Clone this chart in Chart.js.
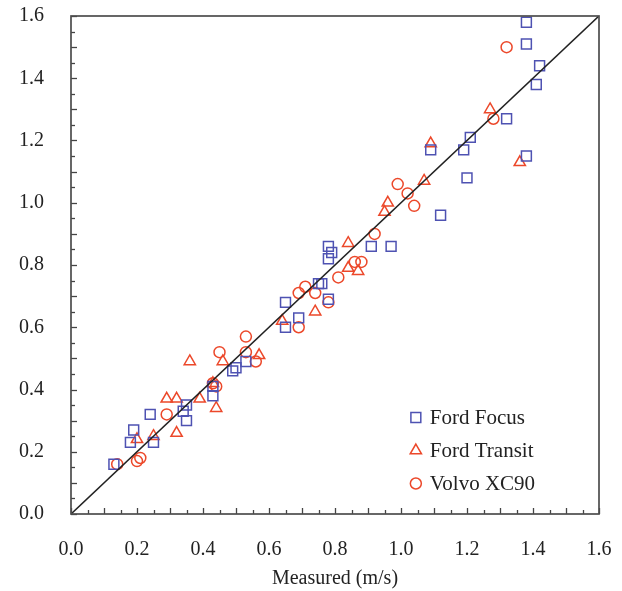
<!DOCTYPE html>
<html>
<head>
<meta charset="utf-8">
<script src="https://cdn.jsdelivr.net/npm/chart.js@4/dist/chart.umd.min.js"></script>
<style>
  html, body { margin: 0; padding: 0; background: #ffffff; }
  #wrap { width: 622px; height: 591px; }
</style>
</head>
<body>
<div id="wrap"><canvas id="c" width="622" height="591"></canvas></div>
<script>
// ---- Data ----
const seriesNames = ["Ford Focus", "Ford Transit", "Volvo XC90"];

const focusX   = [0.13, 0.18, 0.19, 0.25, 0.24, 0.35, 0.34, 0.35, 0.43, 0.43, 0.49, 0.50, 0.53, 0.65, 0.65, 0.69, 0.75, 0.76, 0.78, 0.78, 0.79, 0.78, 0.91, 0.97, 1.12, 1.09, 1.19, 1.21, 1.20, 1.32, 1.38, 1.41, 1.42, 1.38, 1.38];
const focusY   = [0.16, 0.23, 0.27, 0.23, 0.32, 0.35, 0.33, 0.30, 0.41, 0.38, 0.46, 0.47, 0.49, 0.68, 0.60, 0.63, 0.74, 0.74, 0.69, 0.86, 0.84, 0.82, 0.86, 0.86, 0.96, 1.17, 1.17, 1.21, 1.08, 1.27, 1.15, 1.38, 1.44, 1.51, 1.58];

const transitX = [0.20, 0.25, 0.32, 0.29, 0.32, 0.39, 0.44, 0.43, 0.36, 0.46, 0.57, 0.64, 0.74, 0.84, 0.84, 0.87, 0.96, 0.95, 1.07, 1.09, 1.27, 1.36];
const transitY = [0.24, 0.25, 0.26, 0.37, 0.37, 0.37, 0.34, 0.42, 0.49, 0.49, 0.51, 0.62, 0.65, 0.87, 0.79, 0.78, 1.00, 0.97, 1.07, 1.19, 1.30, 1.13];

const volvoX   = [0.14, 0.20, 0.21, 0.29, 0.43, 0.44, 0.45, 0.53, 0.53, 0.56, 0.69, 0.69, 0.71, 0.74, 0.78, 0.81, 0.86, 0.88, 0.92, 0.99, 1.02, 1.04, 1.28, 1.32];
const volvoY   = [0.16, 0.17, 0.18, 0.32, 0.42, 0.41, 0.52, 0.57, 0.52, 0.49, 0.60, 0.71, 0.73, 0.71, 0.68, 0.76, 0.81, 0.81, 0.90, 1.06, 1.03, 0.99, 1.27, 1.50];

const lineX = [0.0, 1.6];
const lineY = [0.0, 1.6];

const tickValues = [0.0, 0.2, 0.4, 0.6, 0.8, 1.0, 1.2, 1.4, 1.6];
const xTitle = "Measured (m/s)";

// ---- Build ----
const pts = (xs, ys) => xs.map((x, i) => ({ x: x, y: ys[i] }));
const BLUE = "rgb(78, 82, 178)";
const RED = "rgb(236, 72, 42)";
const FONT = "'Liberation Serif', 'Times New Roman', serif";

const datasets = [
  { label: seriesNames[0], data: pts(focusX, focusY), pointStyle: "rect", pointRadius: 7,
    borderColor: BLUE, backgroundColor: "rgba(0,0,0,0)", pointBorderWidth: 1.5, showLine: false, order: 2 },
  { label: seriesNames[1], data: pts(transitX, transitY), pointStyle: "triangle", pointRadius: 6.5,
    borderColor: RED, backgroundColor: "rgba(0,0,0,0)", pointBorderWidth: 1.5, showLine: false, order: 2 },
  { label: seriesNames[2], data: pts(volvoX, volvoY), pointStyle: "circle", pointRadius: 5.5,
    borderColor: RED, backgroundColor: "rgba(0,0,0,0)", pointBorderWidth: 1.5, showLine: false, order: 2 },
  { label: "1:1", data: pts(lineX, lineY), showLine: true, pointRadius: 0, borderColor: "#222222",
    borderWidth: 1.6, fill: false, order: 1, isRef: true }
];

const zeroPad = s => { s.paddingTop = 0; s.paddingBottom = 0; s.paddingLeft = 0; s.paddingRight = 0; };

const frameTicks = {
  id: "frameTicks",
  afterDatasetsDraw(chart) {
    const { ctx, chartArea: a, scales } = chart;
    ctx.save();
    ctx.strokeStyle = "#444444";
    ctx.lineWidth = 1.3;
    for (let k = 0; k <= 32; k++) {
      const v = k * 0.05;
      const len = (k % 2 === 0) ? 6 : 4;
      const px = Math.round(scales.x.getPixelForValue(v)) + 0.5;
      const py = Math.round(scales.y.getPixelForValue(v)) + 0.5;
      ctx.beginPath(); ctx.moveTo(px, a.bottom); ctx.lineTo(px, a.bottom - len); ctx.stroke();
      ctx.beginPath(); ctx.moveTo(a.left, py); ctx.lineTo(a.left + len, py); ctx.stroke();
    }
    ctx.lineWidth = 1.7;
    ctx.strokeStyle = "#4d4d4d";
    ctx.strokeRect(a.left, a.top, a.right - a.left, a.bottom - a.top);
    ctx.restore();
  }
};

const insideLegend = {
  id: "insideLegend",
  afterDraw(chart) {
    const { ctx } = chart;
    const x0 = chart.scales.x.getPixelForValue(1.045);
    const y0 = chart.scales.y.getPixelForValue(0.31);
    const gap = 33;
    ctx.save();
    chart.data.datasets.filter(d => !d.isRef).forEach((d, i) => {
      const y = y0 + i * gap;
      ctx.strokeStyle = d.borderColor;
      ctx.fillStyle = "rgba(0,0,0,0)";
      ctx.lineWidth = d.pointBorderWidth;
      Chart.helpers.drawPoint(ctx, { pointStyle: d.pointStyle, radius: d.pointRadius, rotation: 0, borderWidth: d.pointBorderWidth }, x0, y);
      ctx.fillStyle = "#222222";
      ctx.font = "21px " + FONT;
      ctx.textBaseline = "middle";
      ctx.textAlign = "left";
      ctx.fillText(d.label, x0 + 14, y + 1);
    });
    ctx.restore();
  }
};

new Chart(document.getElementById("c"), {
  type: "scatter",
  data: { datasets: datasets },
  options: {
    responsive: false,
    animation: false,
    devicePixelRatio: 1,
    layout: { padding: { top: 16, right: 23, left: 0, bottom: 0 } },
    plugins: { legend: { display: false }, tooltip: { enabled: false } },
    scales: {
      x: {
        type: "linear", min: 0, max: 1.6,
        afterBuildTicks: s => { s.ticks = tickValues.map(v => ({ value: v })); },
        afterFit: s => { s.height = 77; zeroPad(s); },
        grid: { display: false, drawTicks: false },
        border: { display: false },
        ticks: { color: "#222222", font: { family: FONT, size: 20 }, padding: 24, maxRotation: 0,
                 callback: v => Number(v).toFixed(1) },
        title: { display: true, text: xTitle, color: "#222222", font: { family: FONT, size: 20 },
                 padding: { top: 0, bottom: 0 } }
      },
      y: {
        type: "linear", min: 0, max: 1.6,
        afterBuildTicks: s => { s.ticks = tickValues.map(v => ({ value: v })); },
        afterFit: s => { s.width = 71; zeroPad(s); },
        grid: { display: false, drawTicks: false },
        border: { display: false },
        ticks: { color: "#222222", font: { family: FONT, size: 20 }, padding: 27,
                 callback: v => Number(v).toFixed(1) }
      }
    }
  },
  plugins: [frameTicks, insideLegend]
});
</script>
</body>
</html>
